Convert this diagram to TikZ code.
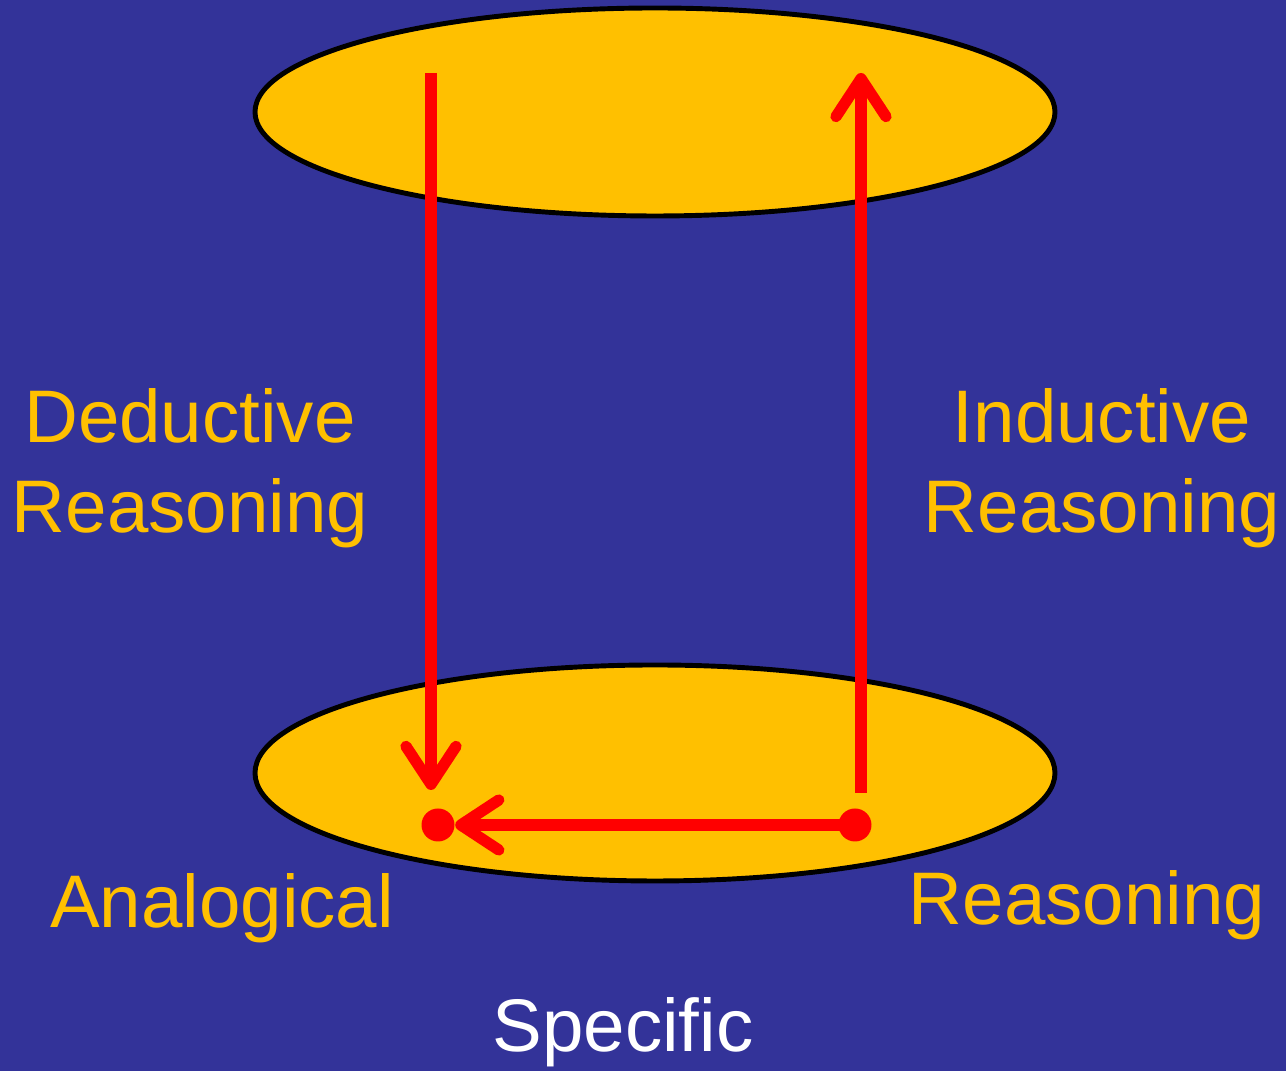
\documentclass[tikz,border=0pt]{standalone}
\usepackage{fontspec}
\setmainfont{Liberation Sans}
\usetikzlibrary{shapes.geometric, arrows.meta, positioning}
\definecolor{cBack}{RGB}{51,51,153}
\definecolor{cGold}{RGB}{255,192,0}
\definecolor{cRed}{RGB}{255,0,0}
\tikzset{
	level/.style   ={ellipse, draw=black, line width=1.4pt, fill=cGold, minimum width=8cm, minimum height=2.08cm},
	reason/.style  ={-{Straight Barb[length=3.8mm, width=5mm, round]}, cRed, line width=3.2pt},
	dotpt/.style   ={circle, fill=cRed, minimum size=0.33cm, inner sep=0pt},
	lbl/.style     ={text=cGold, align=center, font=\fontsize{21.2}{25.6}\selectfont},
}
\begin{document}
\begin{tikzpicture}
	\fill[cBack] (0,0) rectangle (12.86,10.71);
	\useasboundingbox (0,0) rectangle (12.86,10.71);
	% general and specific levels
	\node[level] (gen) at (6.55,9.59) {};
	\node[level, minimum height=2.16cm] (spec) at (6.55,2.98) {};
	\coordinate (dedtop) at (4.31,9.98);
	\coordinate (dedend) at (4.31,2.81);
	\coordinate (indbot) at (8.61,2.78);
	\coordinate (indtop) at (8.61,9.98);
	\node[dotpt] (dr) at (8.55,2.46) {};
	\node[dotpt] (dl) at (4.38,2.46) {};
	\draw[reason] (dedtop) -- (dedend);
	\draw[reason] (indbot) -- (indtop);
	\draw[reason] (dr.center) -- (dl.east);
	% labels
	\node[lbl] (ded) at (1.90,6.03) {Deductive\\Reasoning};
	\node[lbl] (ind) at (11.02,6.03) {Inductive\\Reasoning};
	\node[lbl, anchor=base] (ana) at (2.22,1.43) {Analogical};
	\node[lbl, anchor=base] (rsn) at (10.87,1.46) {Reasoning};
	\node[lbl, text=white, anchor=base] (spc) at (6.23,0.19) {Specific};
\end{tikzpicture}
\end{document}
